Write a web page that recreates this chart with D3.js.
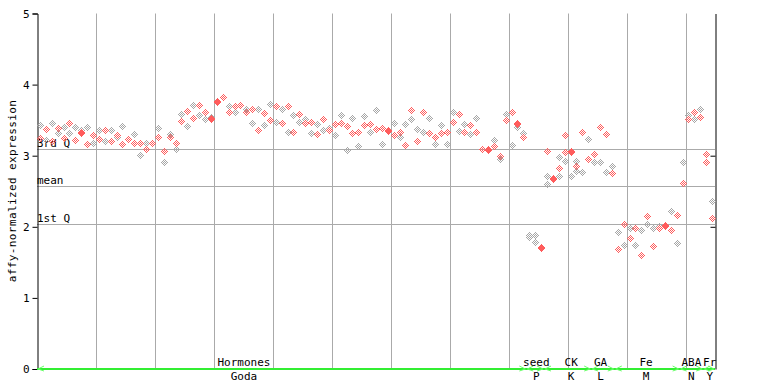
<!DOCTYPE html>
<html>
<head>
<meta charset="utf-8">
<script src="https://cdn.jsdelivr.net/npm/d3@7"></script>
<style>
  body { margin: 0; background: #fff; }
  text { font-family: "DejaVu Sans Mono", monospace; font-size: 11px; fill: #000; }
</style>
</head>
<body>
<div class="plot"></div>
<script>
// expression values per sample (replicates / probes)
const values = [
  [3.43,3.25],[3.37,3.22],[3.46,3.20],[3.385,3.315],[3.40,3.25],[3.46,3.32],[3.41,3.22],[3.36,3.33,3.316],[3.40,3.17],[3.29,3.18],
  [3.36,3.24],[3.36,3.21],[3.36,3.21],[3.29,3.27],[3.42,3.17],[3.23],[3.30,3.18],[3.18,3.01],[3.18,3.10],[3.18],
  [3.385,3.26],[3.07,2.91],[3.30,3.26],[3.18,3.09],[3.59,3.49],[3.63,3.42],[3.71,3.53],[3.71,3.57],[3.62,3.51],[3.55,3.53,3.516],
  [3.77,3.756],[3.83],[3.70,3.61],[3.70,3.61],[3.71],[3.65,3.61],[3.65,3.46],[3.65,3.36],[3.60,3.43],[3.73,3.50],
  [3.70,3.47],[3.65,3.46],[3.70,3.33],[3.57,3.34],[3.59,3.47],[3.51,3.46],[3.47,3.32],[3.45,3.31],[3.51,3.36],[3.39,3.36],
  [3.45,3.29],[3.57,3.46],[3.42,3.08],[3.53,3.32],[3.33,3.14],[3.56,3.43],[3.45,3.33],[3.64,3.37],[3.39,3.17],[3.36,3.346],
  [3.46,3.29],[3.33,3.27],[3.45,3.15],[3.64,3.51],[3.37,3.20],[3.61,3.34],[3.53,3.32],[3.26,3.16],[3.43,3.32],[3.34,3.17],
  [3.62,3.48],[3.59,3.35],[3.45,3.33],[3.43,3.31],[3.53,3.33],[3.10],[3.09,3.076],[3.22,3.14],[3.00,2.96],[3.58,3.50],
  [3.62,3.15],[3.46,3.446,3.41],[3.32,3.26],[1.88,1.86],[1.89,1.78],[1.72,1.706],[3.06,2.71,2.60],[2.69,2.676],[2.98,2.82,2.72],[3.29,3.05,2.92],
  [3.06,3.046,2.71],[2.92,2.86,2.78],[3.33,2.77],[3.23,2.95],[3.02,2.91],[3.41,2.91],[3.30,2.77],[2.86,2.75],[1.92,1.69],[2.04,1.74],
  [1.98,1.84],[1.98,1.74],[1.95,1.61],[2.15,2.04],[1.98,1.73],[2.01,1.98],[2.02,2.006],[2.22,1.96],[2.16,1.77],[2.91,2.62],
  [3.57,3.51],[3.62,3.52],[3.65,3.54],[3.02,2.91],[2.36,2.12]
];
// colour of each point: g = grey, r = red
const colours = [
  "gr","rg","gr","rg","gr","rg","gr","grr","gr","rg",
  "gr","rg","gr","rg","gr","r","gr","rg","gr","r",
  "gr","rg","gr","rg","gr","rg","gr","rg","rg","grr",
  "rr","r","gr","rg","r","gr","rg","gr","rg","gr",
  "rg","gr","rg","gr","rg","gr","rg","gr","rg","gr",
  "rg","gr","rg","gr","rg","gr","rg","gr","rg","rr",
  "gr","rg","gr","rg","gr","rg","gr","rg","gr","rg",
  "gr","rg","gr","rg","gr","r","rr","gr","rg","gr",
  "rg","rrg","gr","gg","gg","rr","rgg","rr","grg","rrg",
  "rrg","grg","rg","gr","rg","rg","rg","gr","gr","rg",
  "gr","rg","gr","rg","gr","gr","rr","gr","rg","gr",
  "gr","rg","gr","rr","gr"
];
const nSamples = 115;
const quartiles = [{name: "3rd Q", v: 3.10}, {name: "mean", v: 2.58}, {name: "1st Q", v: 2.04}];
const groups = ["Hormones", "seed", "CK", "GA", "Fe", "ABA", "Fr"];
const codes = ["Goda", "P", "K", "L", "M", "N", "Y"];
const groupStart = [0, 83, 86, 94, 98, 109, 113];
const groupEnd = [82, 85, 93, 97, 108, 112, 114];
const labelAt = [35.1, 84.7, 90.6, 95.6, 103.3, 111, 114.1];
const yTicks = [0, 1, 2, 3, 4, 5];

const width = 768, height = 384;
const plotL = 37, plotR = 715, plotT = 13.5, plotB = 369;

const svg = d3.select('.plot').append('svg')
  .attr('width', width).attr('height', height);

const x = d3.scaleLinear().domain([0, nSamples]).range([plotL, plotR]);
const y = d3.scaleLinear().domain([0, 5]).range([plotB, plotT]);

// vertical grid every 10 samples
svg.append('g').selectAll('line')
  .data(d3.range(10, nSamples, 10))
  .enter().append('line')
  .attr('x1', d => Math.round(x(d)) + 0.5).attr('x2', d => Math.round(x(d)) + 0.5)
  .attr('y1', plotT).attr('y2', plotB)
  .attr('stroke', '#aaaaaa');

// quartile lines
svg.append('g').selectAll('line')
  .data(quartiles)
  .enter().append('line')
  .attr('x1', plotL).attr('x2', plotR)
  .attr('y1', d => Math.round(y(d.v)) + 0.5).attr('y2', d => Math.round(y(d.v)) + 0.5)
  .attr('stroke', '#aaaaaa');

svg.append('g').selectAll('text')
  .data(quartiles)
  .enter().append('text')
  .attr('x', plotL).attr('y', d => Math.round(y(d.v)) - 2)
  .text(d => d.name);

// left axis
const yAxis = d3.axisLeft(y).tickValues(yTicks).tickSize(5).tickPadding(3).tickFormat(d3.format('d'));
const ax = svg.append('g').attr('transform', `translate(${plotL + 0.5},0)`).call(yAxis);
ax.select('.domain').attr('stroke', '#000');
ax.selectAll('text').style('font-family', '"DejaVu Sans Mono", monospace').style('font-size', '11px');

// right axis
const ax2 = svg.append('g').attr('transform', `translate(${plotR + 0.5},0)`)
  .call(d3.axisLeft(y).tickValues([2, 3]).tickSize(5).tickSizeOuter(0).tickFormat(''));
ax2.select('.domain').attr('stroke', '#000');

svg.append('text')
  .attr('transform', 'translate(15.5,191) rotate(-90)')
  .attr('text-anchor', 'middle')
  .style('letter-spacing', '0.4px')
  .text('affy-normalized expression');

// marker: checkered diamond of 1px cells
const cells = [];
for (let dx = -3; dx <= 3; dx++) {
  for (let dy = -3; dy <= 3; dy++) {
    const m = Math.abs(dx) + Math.abs(dy);
    if (m <= 3 && m % 2 === 1) cells.push([dx, dy]);
  }
}
const defs = svg.append('defs');
[['g', '#a6a6a6'], ['r', '#ff5c5c']].forEach(([k, c]) => {
  defs.append('g').attr('id', 'mk-' + k).selectAll('rect')
    .data(cells).enter().append('rect')
    .attr('x', d => d[0]).attr('y', d => d[1])
    .attr('width', 1).attr('height', 1)
    .attr('fill', c).attr('shape-rendering', 'crispEdges');
});

const points = [];
values.forEach((vs, i) => vs.forEach((v, j) => points.push({i, v, c: colours[i][j] || 'r'})));
points.sort((a, b) => (a.c === 'g' ? 0 : 1) - (b.c === 'g' ? 0 : 1));

svg.append('g').selectAll('use')
  .data(points)
  .enter().append('use')
  .attr('href', d => '#mk-' + d.c)
  .attr('x', d => Math.round(x(d.i + 0.5)))
  .attr('y', d => Math.round(y(d.v)));

// experiment bar at the bottom
const green = '#33ee33';
svg.append('line')
  .attr('x1', plotL).attr('x2', plotR).attr('y1', plotB).attr('y2', plotB)
  .attr('stroke', green).attr('stroke-width', 2);

const gIdx = d3.range(groups.length);
svg.append('g').selectAll('path')
  .data(gIdx)
  .enter().append('path')
  .attr('d', k => {
    const a = x(groupStart[k]) + 1, b = x(groupEnd[k] + 1) - 1;
    return `M${a + 6},${plotB - 3}L${a},${plotB}L${a + 6},${plotB + 2}` +
      `M${b - 6},${plotB - 3}L${b},${plotB}L${b - 6},${plotB + 2}`;
  })
  .attr('fill', 'none').attr('stroke', '#66ff66').attr('stroke-width', 1);

svg.append('g').selectAll('text')
  .data(gIdx)
  .enter().append('text')
  .attr('x', k => x(labelAt[k])).attr('y', 366)
  .attr('text-anchor', 'middle')
  .text(k => groups[k]);

svg.append('g').selectAll('text')
  .data(gIdx)
  .enter().append('text')
  .attr('x', k => x(labelAt[k])).attr('y', 380)
  .attr('text-anchor', 'middle')
  .text(k => codes[k]);
</script>
</body>
</html>
